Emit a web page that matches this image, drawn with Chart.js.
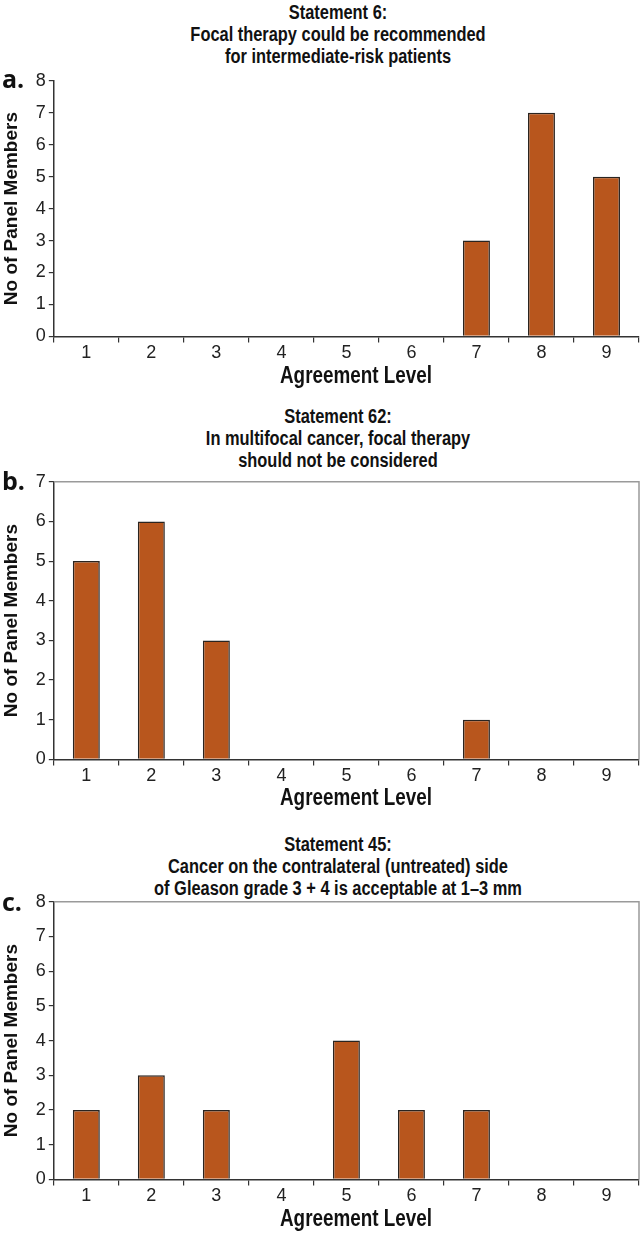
<!DOCTYPE html>
<html>
<head>
<meta charset="utf-8">
<script src="https://cdn.jsdelivr.net/npm/chart.js@4.4.1/dist/chart.umd.min.js"></script>
<style>
  html, body { margin: 0; padding: 0; background: #fff; }
  body { width: 644px; height: 1241px; position: relative; overflow: hidden; }
  .panel { position: absolute; left: 0; width: 644px; }
  .letter { position: absolute; left: 2px; font-family: "Open Sans", "Noto Sans", sans-serif; font-weight: 700; font-size: 25px; line-height: 1; color: #111; }
  .ttl { position: absolute; left: 0; width: 676px; text-align: center; font-family: "Liberation Sans", Arial, sans-serif; font-weight: 700; font-size: 20px; line-height: 22px; color: #111; transform: scaleX(0.82); transform-origin: 338px 0; white-space: nowrap; }
  .xt { position: absolute; left: 0; width: 712px; text-align: center; font-family: "Liberation Sans", Arial, sans-serif; font-weight: 700; font-size: 23px; line-height: 26px; color: #111; transform: scaleX(0.82); transform-origin: 356px 0; white-space: nowrap; }
</style>
</head>
<body>
<div class="ttl" id="ta" style="top:1px;"></div>
<div class="ttl" id="tb" style="top:405px;"></div>
<div class="ttl" id="tc" style="top:833px;"></div>
<div class="panel" style="top:67px;height:297px;"><canvas id="ca"></canvas></div>
<div class="panel" style="top:468px;height:319px;"><canvas id="cb"></canvas></div>
<div class="panel" style="top:888px;height:319px;"><canvas id="cc"></canvas></div>
<div class="xt" id="xa" style="top:362px;"></div>
<div class="xt" id="xb" style="top:784px;"></div>
<div class="xt" id="xc" style="top:1205px;"></div>
<div class="letter" style="top:66px;">a.</div>
<div class="letter" style="top:468px;">b.</div>
<div class="letter" style="top:889px;">c.</div>
<script>
const categories = ["1","2","3","4","5","6","7","8","9"];
const valuesA = [0,0,0,0,0,0,3,7,5];
const valuesB = [5,6,3,0,0,0,1,0,0];
const valuesC = [2,3,2,0,4,2,2,0,0];
const titleA = ["Statement 6:", "Focal therapy could be recommended", "for intermediate-risk patients"];
const titleB = ["Statement 62:", "In multifocal cancer, focal therapy", "should not be considered"];
const titleC = ["Statement 45:", "Cancer on the contralateral (untreated) side", "of Gleason grade 3 + 4 is acceptable at 1\u20133 mm"];
const yMaxA = 8, yMaxB = 7, yMaxC = 8;
const xTitle = "Agreement Level";
const yTitle = "No of Panel Members";

function setLines(id, lines) {
  const el = document.getElementById(id);
  lines.forEach((t) => {
    const d = document.createElement('div');
    d.textContent = t;
    el.appendChild(d);
  });
}
setLines('ta', titleA); setLines('tb', titleB); setLines('tc', titleC);
['xa','xb','xc'].forEach(id => document.getElementById(id).textContent = xTitle);

const tickFont = '"Liberation Sans", Arial, sans-serif';

const frame = {
  id: 'frame',
  afterDatasetsDraw(chart, args, opts) {
    if (!opts.show) return;
    const a = chart.chartArea, ctx = chart.ctx;
    ctx.save();
    ctx.strokeStyle = '#9a9a9a';
    ctx.lineWidth = 1.5;
    ctx.beginPath();
    ctx.moveTo(a.left, a.top);
    ctx.lineTo(a.right, a.top);
    ctx.lineTo(a.right, a.bottom);
    ctx.stroke();
    ctx.restore();
  }
};

function make(id, values, yMax, showFrame) {
  return new Chart(document.getElementById(id), {
    type: 'bar',
    data: {
      labels: categories,
      datasets: [{
        data: values,
        backgroundColor: '#b8561d',
        borderColor: '#2a2420',
        borderWidth: 1.5,
        barPercentage: 0.415,
        categoryPercentage: 1.0
      }]
    },
    options: {
      responsive: true,
      maintainAspectRatio: false,
      animation: false,
      layout: { padding: { left: 0, right: 5, top: 0, bottom: 0 } },
      plugins: {
        legend: { display: false },
        tooltip: { enabled: false },
        title: { display: false },
        frame: { show: showFrame }
      },
      scales: {
        x: {
          grid: { display: true, drawOnChartArea: false, drawTicks: true, tickLength: 6, color: '#333', lineWidth: 1.2, offset: true },
          border: { display: true, color: '#333', width: 1.5 },
          ticks: { color: '#222', font: { family: tickFont, size: 18 }, padding: 0 },
          title: { display: false }
        },
        y: {
          min: 0, max: yMax,
          grid: { display: true, drawOnChartArea: false, drawTicks: true, tickLength: 5, color: '#333', lineWidth: 1.2 },
          border: { display: true, color: '#333', width: 1.5 },
          ticks: { stepSize: 1, color: '#222', font: { family: tickFont, size: 18 }, padding: 3 },
          title: { display: true, text: yTitle, color: '#111', font: { family: '"Liberation Sans", Arial, sans-serif', size: 19, weight: 'bold' }, padding: { top: 0, bottom: 10 } }
        }
      }
    },
    plugins: [frame]
  });
}

make('ca', valuesA, yMaxA, false);
make('cb', valuesB, yMaxB, true);
make('cc', valuesC, yMaxC, true);
</script>
</body>
</html>
